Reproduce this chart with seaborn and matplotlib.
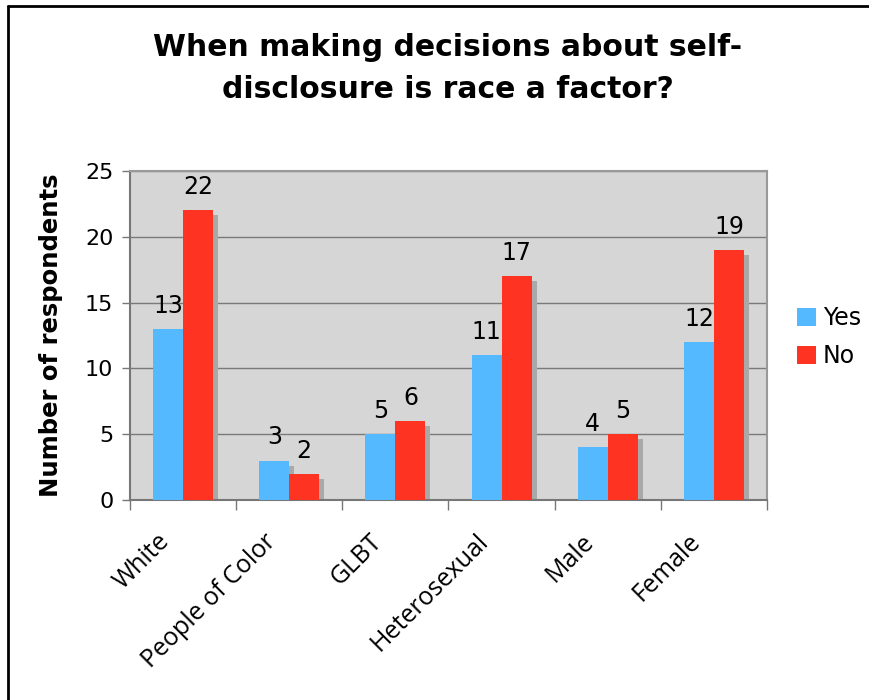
import matplotlib
matplotlib.use("Agg")
import matplotlib.pyplot as plt
import matplotlib.transforms as mtransforms
from matplotlib.lines import Line2D
from matplotlib.patches import Rectangle
import seaborn as sns
import pandas as pd

categories = ["White", "People of Color", "GLBT", "Heterosexual", "Male", "Female"]
yes_values = [13, 3, 5, 11, 4, 12]
no_values = [22, 2, 6, 17, 5, 19]
series_names = ["Yes", "No"]
y_ticks = [0, 5, 10, 15, 20, 25]
title = "When making decisions about self-\ndisclosure is race a factor?"
y_label = "Number of respondents"

colors = {"Yes": "#55b9ff", "No": "#ff3322"}

df = pd.DataFrame({
    "category": categories * 2,
    "series": [series_names[0]] * len(categories) + [series_names[1]] * len(categories),
    "value": yes_values + no_values,
})

sns.set_style("white")
plt.rcParams["font.family"] = ["DejaVu Sans"]
plt.rcParams["text.color"] = "black"
plt.rcParams["axes.labelcolor"] = "black"

fig = plt.figure(figsize=(8.7, 7), dpi=100)
ax = fig.add_axes([130 / 870, 1 - 500 / 700, (767 - 130) / 870, (500 - 171) / 700])
ax.set_facecolor("#d6d6d6")

sns.barplot(data=df, x="category", y="value", hue="series", order=categories,
            hue_order=series_names, palette=colors, width=0.565, gap=0,
            saturation=1, ax=ax, zorder=3, legend=True, edgecolor="none", linewidth=0)

# shadows
offset = mtransforms.ScaledTranslation(5 / 100, -5 / 100, fig.dpi_scale_trans)
for p in list(ax.patches):
    if p.get_height() <= 0:
        continue
    sh = Rectangle((p.get_x(), p.get_y()), p.get_width(), p.get_height(),
                   facecolor="#a9a9a9", edgecolor="none",
                   transform=ax.transData + offset, zorder=2, clip_on=True)
    ax.add_patch(sh)

# value labels
for cont, vals in zip(ax.containers, [yes_values, no_values]):
    ax.bar_label(cont, labels=[str(v) for v in vals], padding=8, fontsize=17,
                 color="black")

ax.set_ylim(0, 25)
ax.set_xlim(-0.5, len(categories) - 0.5)
ax.set_yticks(y_ticks)
ax.set_yticklabels([str(t) for t in y_ticks], fontsize=16)
ax.yaxis.grid(True, color="#7a7a7a", linewidth=1.0, zorder=1)
ax.set_axisbelow(True)

ax.set_xticks(range(len(categories)))
ax.set_xticklabels(categories, rotation=45, ha="right", rotation_mode="anchor",
                   fontsize=18, family="Open Sans")
ax.tick_params(axis="x", length=0, pad=21, labelcolor="black")
lab_off = mtransforms.ScaledTranslation(-26 / 100, 0, fig.dpi_scale_trans)
for lab in ax.get_xticklabels():
    lab.set_transform(lab.get_transform() + lab_off)
ax.set_xticks([i - 0.5 for i in range(len(categories) + 1)], minor=True)
ax.tick_params(axis="x", which="minor", length=7, width=1, color="#777777", direction="out", bottom=True)
ax.tick_params(axis="y", length=6, width=1, color="#777777", direction="out", left=True, pad=6,
               labelcolor="black")

ax.set_xlabel("")
ax.set_ylabel(y_label, fontsize=17.5, fontweight="bold", labelpad=16)

for side in ["top", "right"]:
    ax.spines[side].set_visible(True)
    ax.spines[side].set_color("#999999")
    ax.spines[side].set_linewidth(1.5)
ax.spines["left"].set_color("#777777")
ax.spines["left"].set_linewidth(1.5)
ax.spines["bottom"].set_color("#777777")
ax.spines["bottom"].set_linewidth(1.5)

# legend
handles, labels = ax.get_legend_handles_labels()
ax.legend(handles, labels, loc="center left", bbox_to_anchor=(797 / 870, 1 - 337 / 700),
          bbox_transform=fig.transFigure, frameon=False, fontsize=17,
          handlelength=0.8, handleheight=0.8, handletextpad=0.3, labelspacing=0.6,
          borderpad=0, borderaxespad=0)

fig.suptitle(title, x=448 / 870, y=1 - 33 / 700, fontsize=21.5, fontweight="bold",
             va="top", linespacing=1.55, color="black")

# outer frame (top and left only visible)
fig.add_artist(Line2D([8 / 870, 1], [1 - 6 / 700, 1 - 6 / 700], transform=fig.transFigure,
                      color="black", linewidth=2))
fig.add_artist(Line2D([8 / 870, 8 / 870], [0, 1 - 6 / 700], transform=fig.transFigure,
                      color="black", linewidth=2))

fig.savefig("out.png", dpi=100)
